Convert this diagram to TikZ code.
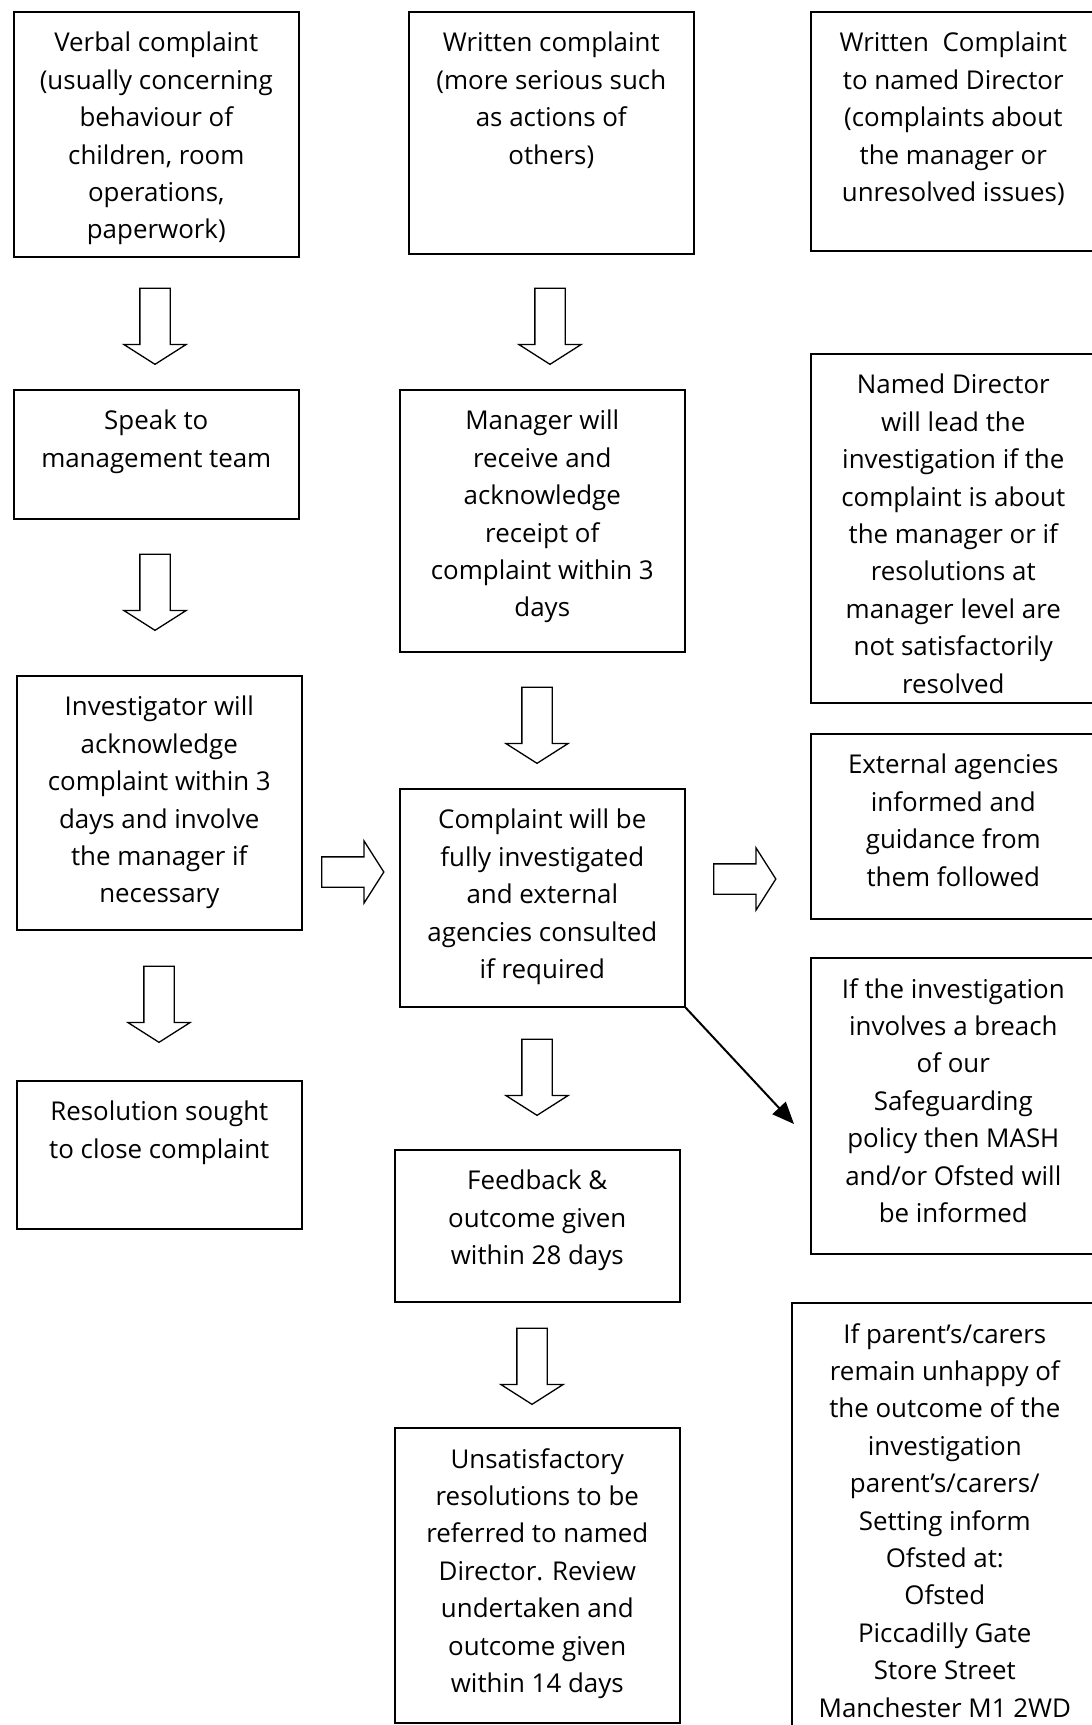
\documentclass[tikz,border=0pt]{standalone}
\usepackage{fontspec}
\setmainfont{Open Sans}
\usetikzlibrary{positioning,shapes.arrows,arrows.meta}

\begin{document}
\begin{tikzpicture}
[
x=1pt, y=-1pt,
box-a/.style={draw, line width=1.6pt, anchor=north west, inner sep=0pt},
text-a/.style={align=center, inner sep=0pt, font=\fontsize{25.9}{37.4}\selectfont},
arrow-a/.style={single arrow, draw, line width=1.3pt, inner sep=14.5pt, single arrow head extend=16pt, single arrow tip angle=115, minimum height=76pt},
arrow-d/.style={arrow-a, rotate=-90},
arrow-r/.style={arrow-a, minimum height=62pt}
]
\useasboundingbox (0,0) rectangle (1092,1725);
\clip (0,0) rectangle (1092,1725);

% left column
\node (verbal)       [box-a, minimum width=285pt, minimum height=245pt] at (13,11) {};
\node (verbal-tx)    [text-a, below = 21pt of verbal.north] {Verbal complaint\\(usually concerning\\behaviour of\\children, room\\operations,\\paperwork)};
\node (speak)        [box-a, minimum width=285pt, minimum height=129pt] at (13,389) {};
\node (speak-tx)     [text-a, below = 21pt of speak.north] {Speak to\\management team};
\node (invest)       [box-a, minimum width=285pt, minimum height=254pt] at (16,675) {};
\node (invest-tx)    [text-a, below = 21pt of invest.north] {Investigator will\\acknowledge\\complaint within 3\\days and involve\\the manager if\\necessary};
\node (resol)        [box-a, minimum width=285pt, minimum height=148pt] at (16,1080) {};
\node (resol-tx)     [text-a, below = 21pt of resol.north] {Resolution sought\\to close complaint};

% middle column
\node (written)      [box-a, minimum width=285pt, minimum height=242pt] at (408,11) {};
\node (written-tx)   [text-a, below = 21pt of written.north] {Written complaint\\(more serious such\\as actions of\\others)};
\node (manager)      [box-a, minimum width=285pt, minimum height=262pt] at (399,389) {};
\node (manager-tx)   [text-a, below = 21pt of manager.north] {Manager will\\receive and\\acknowledge\\receipt of\\complaint within 3\\days};
\node (complaint)    [box-a, minimum width=285pt, minimum height=218pt] at (399,788) {};
\node (complaint-tx) [text-a, below = 21pt of complaint.north] {Complaint will be\\fully investigated\\and external\\agencies consulted\\if required};
\node (feedback)     [box-a, minimum width=285pt, minimum height=152pt] at (394,1149) {};
\node (feedback-tx)  [text-a, below = 21pt of feedback.north] {Feedback \&\\outcome given\\within 28 days};
\node (unsat)        [box-a, minimum width=285pt, minimum height=295pt] at (394,1427) {};
\node (unsat-tx)     [text-a, below = 21pt of unsat.north] {Unsatisfactory\\resolutions to be\\referred to named\\Director. Review\\undertaken and\\outcome given\\within 14 days};

% right column
\node (director)     [box-a, minimum width=285pt, minimum height=239pt] at (810,11) {};
\node (director-tx)  [text-a, below = 21pt of director.north] {Written\ \ Complaint\\to named Director\\(complaints about\\the manager or\\unresolved issues)};
\node (named)        [box-a, minimum width=285pt, minimum height=349pt] at (810,353) {};
\node (named-tx)     [text-a, below = 21pt of named.north] {Named Director\\will lead the\\investigation if the\\complaint is about\\the manager or if\\resolutions at\\manager level are\\not satisfactorily\\resolved};
\node (external)     [box-a, minimum width=285pt, minimum height=185pt] at (810,733) {};
\node (external-tx)  [text-a, below = 21pt of external.north] {External agencies\\informed and\\guidance from\\them followed};
\node (breach)       [box-a, minimum width=285pt, minimum height=296pt] at (810,957) {};
\node (breach-tx)    [text-a, below = 21pt of breach.north] {If the investigation\\involves a breach\\of our\\Safeguarding\\policy then MASH\\and/or Ofsted will\\be informed};
\node (ofsted)       [box-a, minimum width=306pt, minimum height=433pt] at (791,1302) {};
\node (ofsted-tx)    [text-a, below = 21pt of ofsted.north] {If parent’s/carers\\remain unhappy of\\the outcome of the\\investigation\\parent’s/carers/\\Setting inform\\Ofsted at:\\Ofsted\\Piccadilly Gate\\Store Street\\Manchester M1 2WD};

% block arrows
\node (arr-1) [arrow-d] at (155,321.5)  {};
\node (arr-2) [arrow-d] at (550,321.5)  {};
\node (arr-3) [arrow-d] at (155,587.5)  {};
\node (arr-4) [arrow-d] at (537,720.5)  {};
\node (arr-5) [arrow-d] at (159,999.5) {};
\node (arr-6) [arrow-d] at (537,1072.5) {};
\node (arr-7) [arrow-d] at (532,1361.5) {};
\node (arr-8) [arrow-r] at (348,872)  {};
\node (arr-9) [arrow-r] at (740,879)  {};

\coordinate (breach-in) at (794,1124);
\draw [-{Triangle[length=22pt,width=18pt]}, line width=2pt] (complaint.south east) -- (breach-in);

\end{tikzpicture}
\end{document}
